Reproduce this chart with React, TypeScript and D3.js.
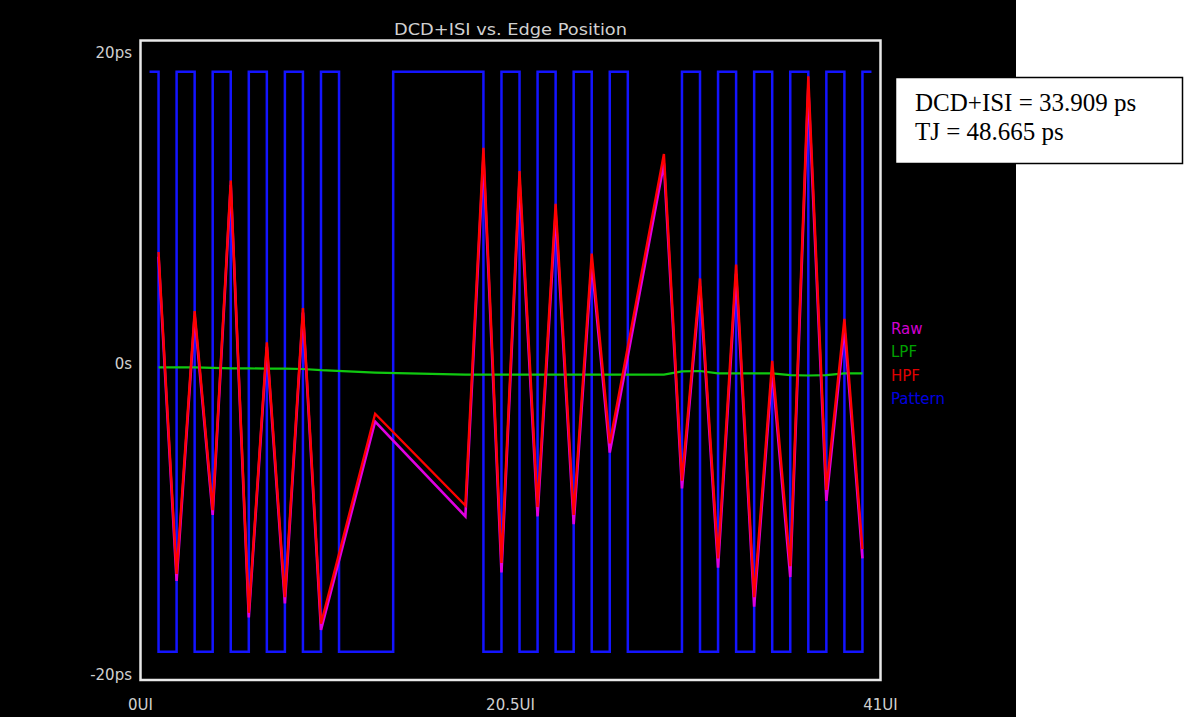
import React from "react";
import * as d3 from "d3";

// ---- data ----
const edgeUI = [1, 2, 3, 4, 5, 6, 7, 8, 9, 10, 13, 18, 19, 20, 21, 22, 23, 24, 25, 26, 29, 30, 31, 32, 33, 34, 35, 36, 37, 38, 39, 40];
const rawPs = [6.9, -13.95, 3.1, -9.7, 11.5, -16.3, 1.1, -15.4, 3.3, -17.1, -3.7, -9.8, 13.3, -13.4, 11.8, -9.8, 9.7, -10.3, 6.5, -5.7, 12.9, -8.0, 5.0, -13.1, 5.8, -15.6, -0.4, -13.7, 17.8, -8.8, 2.3, -12.5];
const hpfPs = [7.2, -13.5, 3.4, -9.4, 11.8, -16.0, 1.4, -15.0, 3.6, -16.7, -3.2, -9.1, 13.9, -12.8, 12.4, -9.2, 10.3, -9.7, 7.1, -5.1, 13.5, -7.5, 5.5, -12.5, 6.4, -15.0, 0.2, -13.0, 18.5, -8.1, 2.9, -11.9];
const lpfPs = [-0.22, -0.22, -0.22, -0.25, -0.28, -0.28, -0.3, -0.3, -0.32, -0.4, -0.55, -0.68, -0.68, -0.68, -0.68, -0.68, -0.68, -0.68, -0.68, -0.68, -0.68, -0.48, -0.45, -0.6, -0.6, -0.6, -0.6, -0.72, -0.74, -0.72, -0.6, -0.6];
// pattern bits for UI intervals [k, k+1), k = 0..40 (first starts at 0.5, last ends at 40.5)
const patternBits = [1, 0, 1, 0, 1, 0, 1, 0, 1, 0, 1, 0, 0, 0, 1, 1, 1, 1, 1, 0, 1, 0, 1, 0, 1, 0, 1, 0, 0, 0, 1, 0, 1, 0, 1, 0, 1, 0, 1, 0, 1];
const patternStart = 0.5;
const patternEnd = 40.5;
const patternHigh = 18.8;
const patternLow = -18.5;
const yTicks = [20, 0, -20];
const yTickLabels = ["20ps", "0s", "-20ps"];
const xTicks = [0, 20.5, 41];
const xTickLabels = ["0UI", "20.5UI", "41UI"];
const legendItems = ["Raw", "LPF", "HPF", "Pattern"];
const legendColors = ["#d000d0", "#00a000", "#e00000", "#0000e0"];
const title = "DCD+ISI vs. Edge Position";
const infoLines = ["DCD+ISI = 33.909 ps", "TJ = 48.665 ps"];

export default function App() {
  const W = 1184, H = 717;
  const frame = { l: 140.5, t: 40.5, r: 880.5, b: 680 };
  const x = d3.scaleLinear().domain([0, 41]).range([frame.l, frame.r]);
  const y = d3.scaleLinear().domain([-20, 20]).range([675, 53]);

  const line = d3.line<[number, number]>().x(d => x(d[0])).y(d => y(d[1]));
  const rawPts: [number, number][] = edgeUI.map((e, i) => [e, rawPs[i]]);
  const hpfPts: [number, number][] = edgeUI.map((e, i) => [e, hpfPs[i]]);
  const lpfPts: [number, number][] = edgeUI.map((e, i) => [e, lpfPs[i]]);

  const patPts: [number, number][] = patternBits.map((b, k) => [Math.max(k, patternStart), b ? patternHigh : patternLow]);
  patPts.push([patternEnd, patternBits[patternBits.length - 1] ? patternHigh : patternLow]);
  const stepLine = d3.line<[number, number]>().x(d => x(d[0])).y(d => y(d[1])).curve(d3.curveStepAfter);

  const tickFont = { fontFamily: "DejaVu Sans, sans-serif", fontSize: 15, fill: "#d0d0d0" } as const;

  return (
    <svg width={W} height={H} style={{ position: "absolute", left: 0, top: 0, background: "#fff" }}>
      <rect x={0} y={0} width={1016} height={H} fill="#000" />
      {/* title */}
      <text x={510.5} y={35} textAnchor="middle" textLength={233} lengthAdjust="spacingAndGlyphs" {...tickFont}>{title}</text>
      {/* frame */}
      <rect x={frame.l} y={frame.t} width={frame.r - frame.l} height={frame.b - frame.t} fill="none" stroke="#e8e8e8" strokeWidth={2.5} />
      {/* y ticks */}
      {yTicks.map((t, i) => (
        <text key={"y" + i} x={132} y={y(t)} textAnchor="end" dominantBaseline="central" {...tickFont}>{yTickLabels[i]}</text>
      ))}
      {/* x ticks */}
      {xTicks.map((t, i) => (
        <text key={"x" + i} x={x(t)} y={705} textAnchor="middle" dominantBaseline="central" {...tickFont}>{xTickLabels[i]}</text>
      ))}
      {/* pattern */}
      <path d={stepLine(patPts) || ""} fill="none" stroke="#1414ff" strokeWidth={2.5} />
      {/* LPF */}
      <path d={line(lpfPts) || ""} fill="none" stroke="#10c810" strokeWidth={2.2} />
      {/* Raw */}
      <path d={line(rawPts) || ""} fill="none" stroke="#e000e0" strokeWidth={2.6} />
      {/* HPF */}
      <path d={line(hpfPts) || ""} fill="none" stroke="#ff0000" strokeWidth={2.4} />
      {/* legend */}
      {legendItems.map((s, i) => (
        <text key={"l" + i} x={891} y={329 + i * 23.3} dominantBaseline="central" fontFamily="DejaVu Sans, sans-serif" fontSize={15} fill={legendColors[i]}>{s}</text>
      ))}
      {/* info box */}
      <rect x={895.5} y={77.5} width={287} height={86} fill="#fff" stroke="#000" strokeWidth={1.5} />
      {infoLines.map((s, i) => (
        <text key={"i" + i} x={915} y={111 + i * 29} fontFamily="Liberation Serif, Times New Roman, serif" fontSize={25} fill="#000">{s}</text>
      ))}
    </svg>
  );
}
